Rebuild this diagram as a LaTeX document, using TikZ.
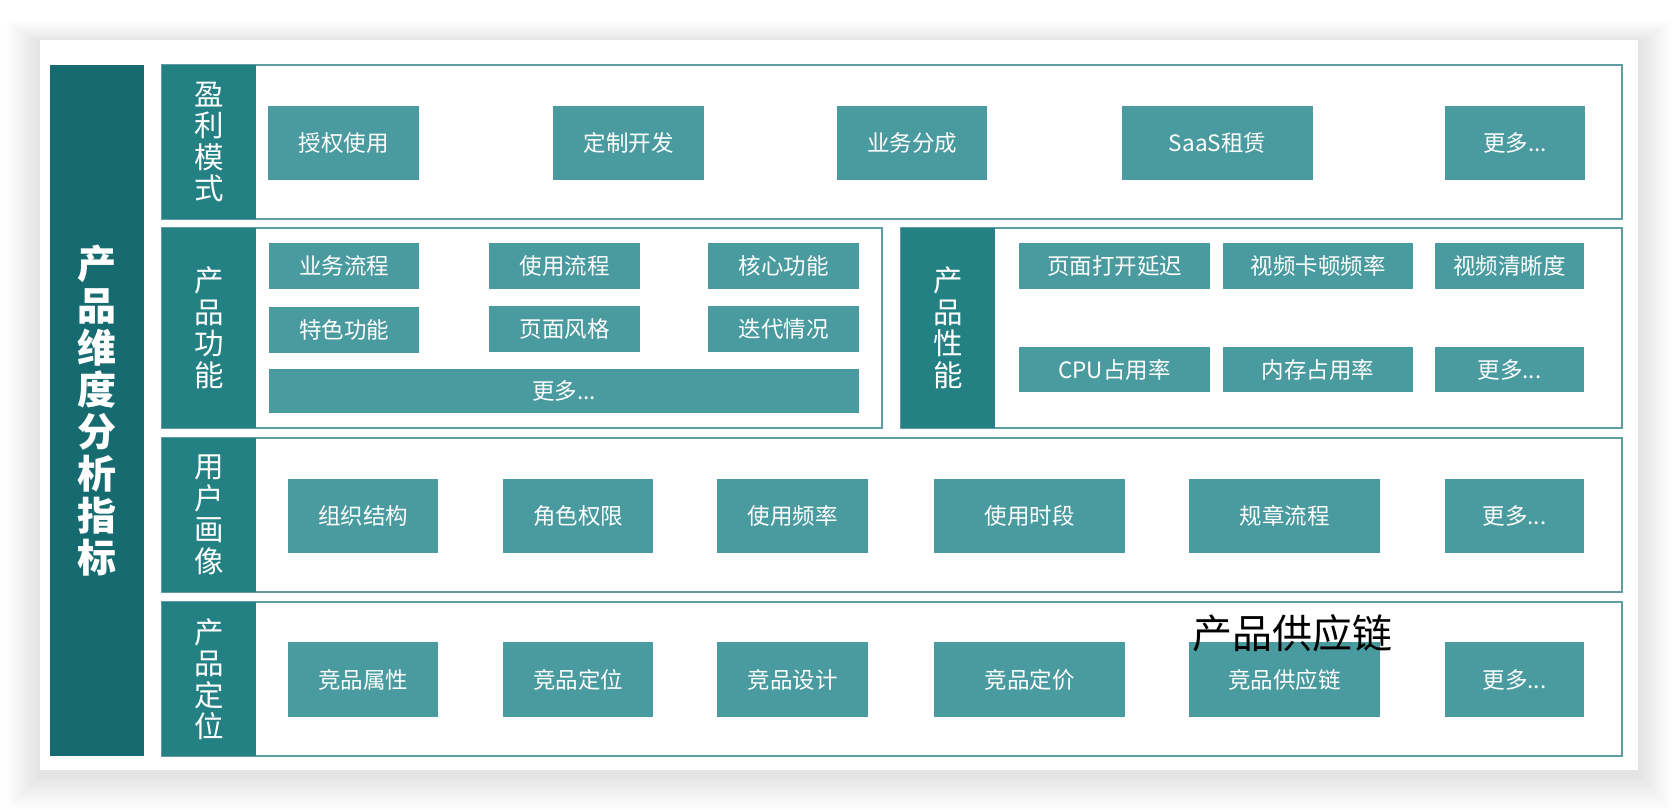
\documentclass[tikz,border=0pt]{standalone}
\usepackage{fontspec}
\setmainfont{Noto Sans CJK SC}
\definecolor{darkbar}{HTML}{156B70}
\definecolor{labcol}{HTML}{238183}
\definecolor{itemcol}{HTML}{4A9B9F}
\definecolor{bordcol}{HTML}{5E9EA2}
\newcommand{\bx}[7]{\node[#1, minimum width={(#5)-(#3)}, minimum height={(#6)-(#4)}] (#2) at ({((#3)+(#5))/2},{((#4)+(#6))/2}) {#7};}
\begin{document}
\begin{tikzpicture}[x=1pt,y=-1pt,
  itembox/.style={fill=itemcol, text=white, inner sep=0pt, outer sep=0pt, font=\fontsize{22.5}{25}\selectfont},
  rowbox/.style={draw=bordcol, line width=1.5pt, fill=white, inner sep=0pt, outer sep=0pt},
  labbox/.style={fill=labcol, text=white, inner sep=0pt, outer sep=0pt, align=center, font=\fontsize{29.5}{31.5}\selectfont},
  titlebox/.style={fill=darkbar, text=white, inner sep=0pt, outer sep=0pt, align=center, font=\bfseries\fontsize{39}{42}\selectfont},
]
\useasboundingbox (0,0) rectangle (1678,810);
\fill[white] (0,0) rectangle (1678,810);
% soft shadow
\foreach \i in {1,...,28}{
  \fill[black, opacity=0.0035] ({40-1.2*\i},{40-0.8*\i+4}) rectangle ({1638+1.2*\i},{770+1.3*\i+4});
}
\bx{fill=white, inner sep=0pt, outer sep=0pt}{card}{40}{40}{1638}{770}{}

% title bar
\bx{titlebox}{title}{50}{65}{144}{756}{产\\品\\维\\度\\分\\析\\指\\标}

% row 1
\bx{rowbox}{r1}{162}{65}{1622}{219}{}
\bx{labbox}{l1}{162}{65}{256}{219}{盈\\利\\模\\式}
\bx{itembox}{a1}{268}{106}{419}{180}{授权使用}
\bx{itembox}{a2}{553}{106}{704}{180}{定制开发}
\bx{itembox}{a3}{837}{106}{987}{180}{业务分成}
\bx{itembox}{a4}{1122}{106}{1313}{180}{SaaS租赁}
\bx{itembox}{a5}{1445}{106}{1585}{180}{更多...}

% row 2 left
\bx{rowbox}{r2a}{162}{228}{882}{428}{}
\bx{labbox}{l2a}{162}{228}{256}{428}{产\\品\\功\\能}
\bx{itembox}{b1}{269}{243}{419}{289}{业务流程}
\bx{itembox}{b2}{489}{243}{640}{289}{使用流程}
\bx{itembox}{b3}{708}{243}{859}{289}{核心功能}
\bx{itembox}{b4}{269}{307}{419}{353}{特色功能}
\bx{itembox}{b5}{489}{306}{640}{352}{页面风格}
\bx{itembox}{b6}{708}{306}{859}{352}{迭代情况}
\bx{itembox}{b7}{269}{369}{859}{413}{更多...}

% row 2 right
\bx{rowbox}{r2b}{901}{228}{1622}{428}{}
\bx{labbox}{l2b}{901}{228}{995}{428}{产\\品\\性\\能}
\bx{itembox}{c1}{1019}{243}{1210}{289}{页面打开延迟}
\bx{itembox}{c2}{1223}{243}{1413}{289}{视频卡顿频率}
\bx{itembox}{c3}{1435}{243}{1584}{289}{视频清晰度}
\bx{itembox}{c4}{1019}{347}{1210}{392}{CPU占用率}
\bx{itembox}{c5}{1223}{347}{1413}{392}{内存占用率}
\bx{itembox}{c6}{1435}{347}{1584}{392}{更多...}

% row 3
\bx{rowbox}{r3}{162}{438}{1622}{592}{}
\bx{labbox}{l3}{162}{438}{256}{592}{用\\户\\画\\像}
\bx{itembox}{d1}{288}{479}{438}{553}{组织结构}
\bx{itembox}{d2}{503}{479}{653}{553}{角色权限}
\bx{itembox}{d3}{717}{479}{868}{553}{使用频率}
\bx{itembox}{d4}{934}{479}{1125}{553}{使用时段}
\bx{itembox}{d5}{1189}{479}{1380}{553}{规章流程}
\bx{itembox}{d6}{1445}{479}{1584}{553}{更多...}

% row 4
\bx{rowbox}{r4}{162}{602}{1622}{756}{}
\bx{labbox}{l4}{162}{602}{256}{756}{产\\品\\定\\位}
\bx{itembox}{e1}{288}{642}{438}{717}{竞品属性}
\bx{itembox}{e2}{503}{642}{653}{717}{竞品定位}
\bx{itembox}{e3}{717}{642}{868}{717}{竞品设计}
\bx{itembox}{e4}{934}{642}{1125}{717}{竞品定价}
\bx{itembox}{e5}{1189}{642}{1380}{717}{竞品供应链}
\bx{itembox}{e6}{1445}{642}{1584}{717}{更多...}

% overlay label
\node[text=black, inner sep=0pt, font=\fontsize{40}{44}\selectfont] (supply) at (1292,633) {产品供应链};
\end{tikzpicture}
\end{document}
